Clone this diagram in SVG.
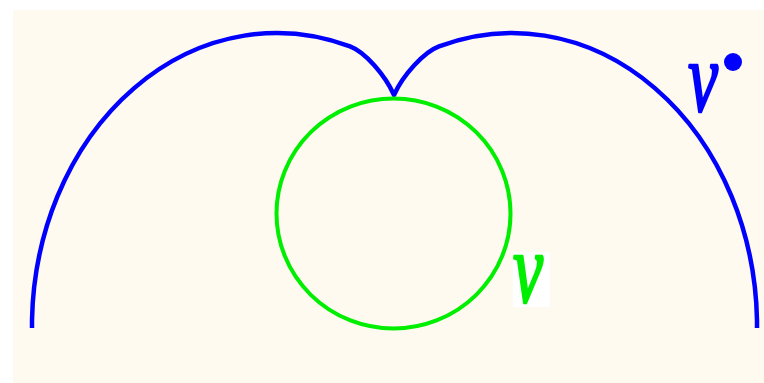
<svg xmlns="http://www.w3.org/2000/svg" width="764" height="383" viewBox="0 0 764 383">
<style>
.bg{fill:#fffaf0}
.curve{fill:none;stroke:#0000ff;stroke-width:4.5;stroke-linejoin:round}
.circ{fill:none;stroke:#00ee00;stroke-width:4}
.lbl{font-family:"Liberation Serif","DejaVu Serif",serif;font-style:italic;font-size:100px;stroke-width:2.5;stroke-linejoin:round}
</style>
<rect x="0" y="0" width="764" height="383" fill="#ffffff"/>
<rect class="bg" x="13" y="10" width="751" height="373"/>
<g id="blue-curve">
<path class="curve" d="M32,328 L32,320 A245,294 0 0 1 350,46.4 C365,52 385,75 394,95 C403,75 424,52 439,46.4 A245,294 0 0 1 757,320 L757,328"/>
</g>
<g id="green-circle">
<ellipse class="circ" cx="393.5" cy="213.5" rx="117" ry="115"/>
</g>
<g id="label-nu">
<rect x="513" y="252" width="37" height="55" fill="#ffffff"/>
<text class="lbl" x="513" y="302" fill="#00ee00" stroke="#00ee00" textLength="30" lengthAdjust="spacingAndGlyphs">ν</text>
</g>
<g id="label-nu-dot">
<text class="lbl" x="688" y="111" fill="#0000ff" stroke="#0000ff" textLength="30" lengthAdjust="spacingAndGlyphs">ν</text>
<circle cx="733" cy="62" r="9" fill="#0000ff"/>
</g>
</svg>
